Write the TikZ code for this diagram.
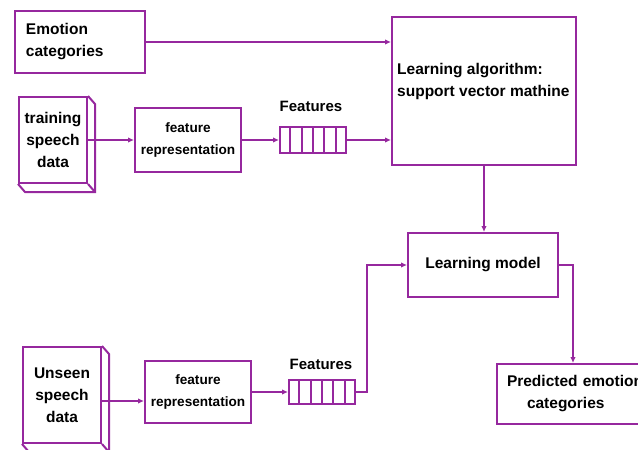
\documentclass[tikz,border=0pt]{standalone}
\usepackage{fontspec}
\setmainfont{Liberation Sans}
\usetikzlibrary{arrows.meta}
\usetikzlibrary{positioning}
\usetikzlibrary{calc}
\definecolor{vpurple}{RGB}{150,40,158}
\tikzset{
    box/.style={draw=vpurple,line width=2pt,rectangle,inner sep=0pt},
    sideline/.style={draw=vpurple,line width=2pt},
    boxtext/.style={font=\bfseries\fontsize{15.5}{22}\selectfont},
    smalltext/.style={font=\bfseries\fontsize{13.6}{22}\selectfont},
    queue/.style={draw=vpurple,line width=2pt,rectangle,inner sep=0pt,minimum width=66pt,minimum height=26pt},
    cellline/.style={draw=vpurple,line width=2pt},
    dedge/.style = {draw=vpurple,line width=2pt,-{Latex[length=6pt,width=5.5pt]}}
}

\begin{document}
\begin{tikzpicture}[x=1pt,y=-1pt]
\useasboundingbox (0,0) rectangle (638,450);

% upper part: training
\node[box,boxtext,minimum width=130pt,minimum height=62pt,text width=108pt,inner xsep=11pt,align=left] (emo) at (80,42) {Emotion\\categories};
\node[box,minimum width=184pt,minimum height=148pt] (alg) at (484,91) {};
\node[boxtext,anchor=west,align=left,inner sep=0pt] (algtxt) at (397,81) {Learning algorithm:\\support vector mathine};
\node[box,boxtext,minimum width=68pt,minimum height=86pt,align=center] (train) at (53,140) {training\\speech\\data};
\node[box,smalltext,minimum width=106pt,minimum height=64pt,align=center] (frep1) at (188,140) {feature\\representation};
\node[queue] (q1) at (313,140) {};
\node[boxtext,font=\bfseries\fontsize{15}{18}\selectfont] (feat1) at (311,106) {Features};

% lower part: prediction
\node[box,boxtext,minimum width=150pt,minimum height=64pt] (model) at (483,265) {Learning model};
\node[box,boxtext,minimum width=78pt,minimum height=96pt,align=center] (unseen) at (62,395) {Unseen\\speech\\data};
\node[box,smalltext,minimum width=106pt,minimum height=62pt,align=center] (frep2) at (198,392) {feature\\representation};
\node[queue,minimum height=24pt] (q2) at (322,392) {};
\node[boxtext,font=\bfseries\fontsize{15}{18}\selectfont] (feat2) at (321,364) {Features};
\begin{scope}
\clip (0,0) rectangle (638,450);
\node[box,boxtext,minimum width=164pt,minimum height=60pt,text width=144pt,inner xsep=10pt,align=left] (pred) at (579,394) {Predicted emotion\\\hspace*{20pt}categories};
\end{scope}

% cuboid sides
\draw[sideline] (train.north east) -- ++(7,8) |- ($(train.south west)+(7,8)$) -- (train.south west);
\draw[sideline] (train.south east) -- ++(7,8);
\draw[sideline] (unseen.north east) -- ++(7,8) |- ($(unseen.south west)+(7,8)$) -- (unseen.south west);
\draw[sideline] (unseen.south east) -- ++(7,8);

% queue cells
\foreach \k in {1,...,5} {
  \draw[cellline] ($(q1.north west)!\k/6!(q1.north east)$) -- ($(q1.south west)!\k/6!(q1.south east)$);
  \draw[cellline] ($(q2.north west)!\k/6!(q2.north east)$) -- ($(q2.south west)!\k/6!(q2.south east)$);
}

% connectors
\draw[dedge] (emo.east) -- (emo.east -| alg.west);
\draw[dedge] (train.east) -- (frep1.west);
\draw[dedge] (frep1.east) -- (q1.west);
\draw[dedge] (q1.east) -- (q1.east -| alg.west);
\draw[dedge] (alg.south) -- (alg.south |- model.north);
\draw[dedge] ([yshift=-6pt]unseen.east) -- ([yshift=-6pt]unseen.east -| frep2.west);
\draw[dedge] (frep2.east) -- (q2.west);
\draw[dedge] (q2.east) -- ++(11,0) |- (model.west);
\draw[dedge] (model.east) -| ([xshift=-6pt]pred.north);
\end{tikzpicture}
\end{document}
